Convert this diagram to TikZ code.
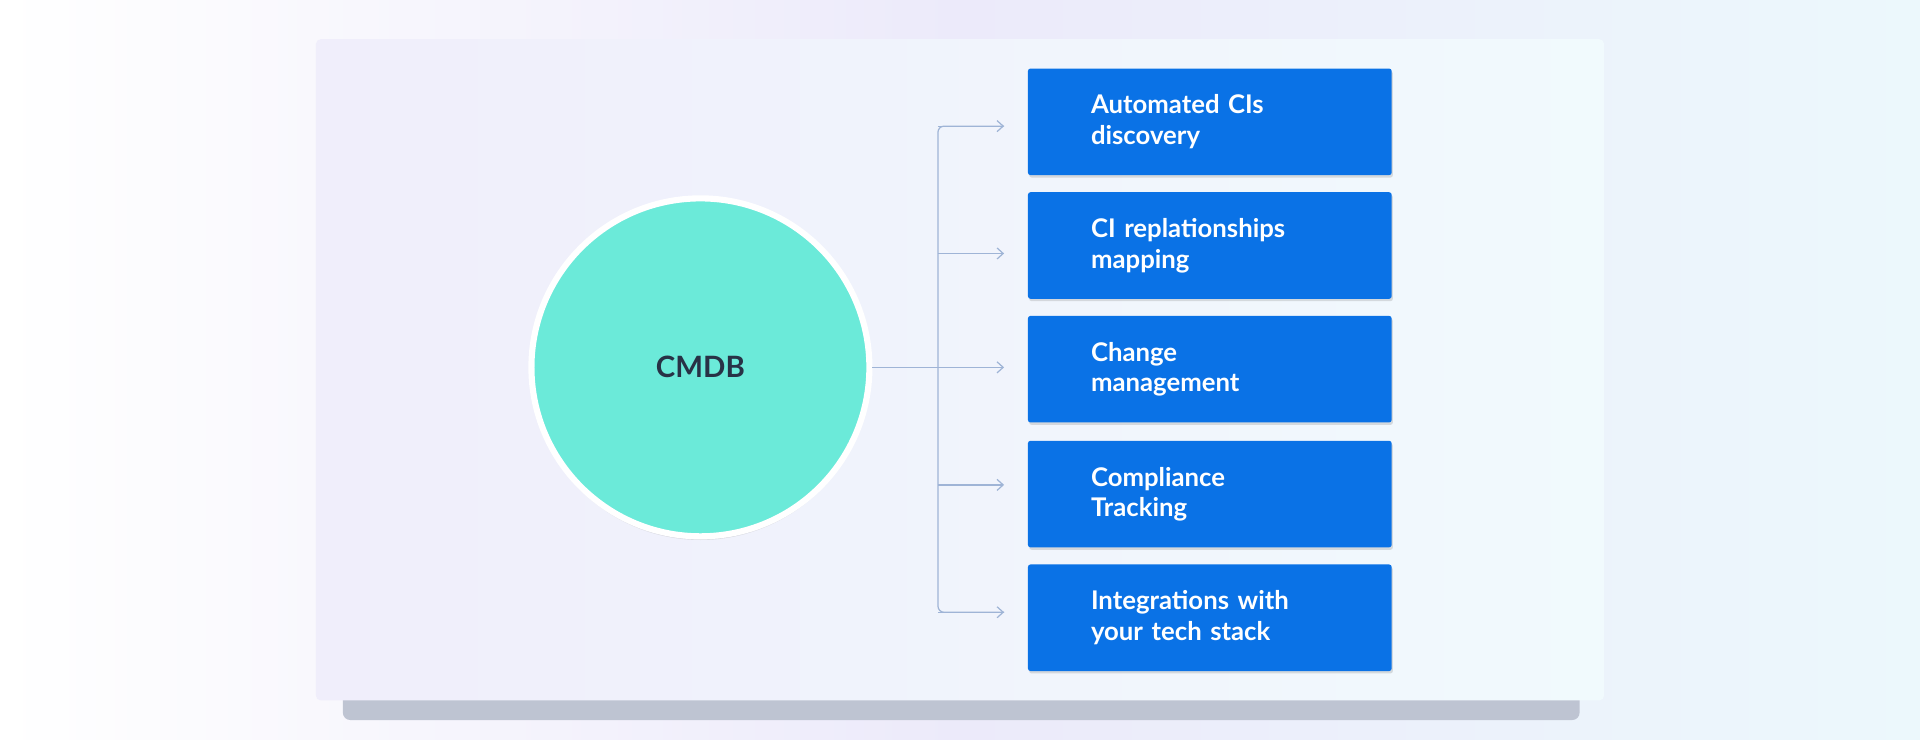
\documentclass[tikz,border=0pt]{standalone}
\usepackage{fontspec}
\setmainfont{Lato}
\usetikzlibrary{arrows.meta,shadows.blur}
\definecolor{boxblue}{HTML}{0A72E6}
\definecolor{mint}{HTML}{6BEAD9}
\definecolor{linec}{HTML}{9FB4D6}
\definecolor{lav}{RGB}{236,234,250}
\definecolor{cyanish}{RGB}{236,248,252}
\definecolor{shadowc}{RGB}{190,196,210}
\definecolor{panelL}{RGB}{240,238,251}
\definecolor{panelR}{RGB}{241,250,253}
\definecolor{darktext}{RGB}{40,50,70}
\begin{document}
\begin{tikzpicture}[x=1pt,y=-1pt,
  item/.style={fill=boxblue,rounded corners=2pt,minimum width=297pt,minimum height=87pt,inner sep=0pt,
    text=white,font=\fontsize{21}{25}\selectfont\bfseries,align=left,text width=194pt,
    drop shadow={shadow xshift=1pt,shadow yshift=-2pt,opacity=.25}},
  conn/.style={draw=linec,line width=1pt},
  arr/.style={conn,-{Straight Barb[length=5pt,width=9pt]}}]
\useasboundingbox (0,0) rectangle (1568,604);
\shade[left color=white,right color=cyanish,middle color=lav] (0,0) rectangle (1568,604);
\fill[shadowc,rounded corners=6pt] (280,540) rectangle (1290,588);
\shade[left color=panelL,right color=panelR,rounded corners=4pt] (258,32) rectangle (1310,572);
\node[circle,fill=mint,draw=white,line width=5pt,minimum size=276pt,
  drop shadow={shadow xshift=0pt,shadow yshift=-3pt,opacity=.2},
  font=\fontsize{24}{28}\selectfont\bfseries,text=darktext] (c) at (572,300) {CMDB};
\node[item] (b1) at (988,99.5) {Automated CIs\\discovery};
\node[item] (b2) at (988,200.5) {CI replationships\\mapping};
\node[item] (b3) at (988,301.5) {Change\\management};
\node[item] (b4) at (988,403.5) {Compliance\\Tracking};
\node[item] (b5) at (988,504.5) {Integrations with\\your tech stack};
\coordinate (j) at (766,300);
\draw[conn] (c.east) -- (j);
\coordinate (t1) at (766,103);
\coordinate (t5) at (766,500);
\draw[conn,rounded corners=5pt] (820,103) -- (t1) -- (t5) -- (820,500);
\draw[arr] (t1) -- (820,103);
\draw[arr] (766,207) -- (820,207);
\draw[arr] (j) -- (820,300);
\draw[arr] (766,396) -- (820,396);
\draw[arr] (t5) -- (820,500);
\end{tikzpicture}
\end{document}
